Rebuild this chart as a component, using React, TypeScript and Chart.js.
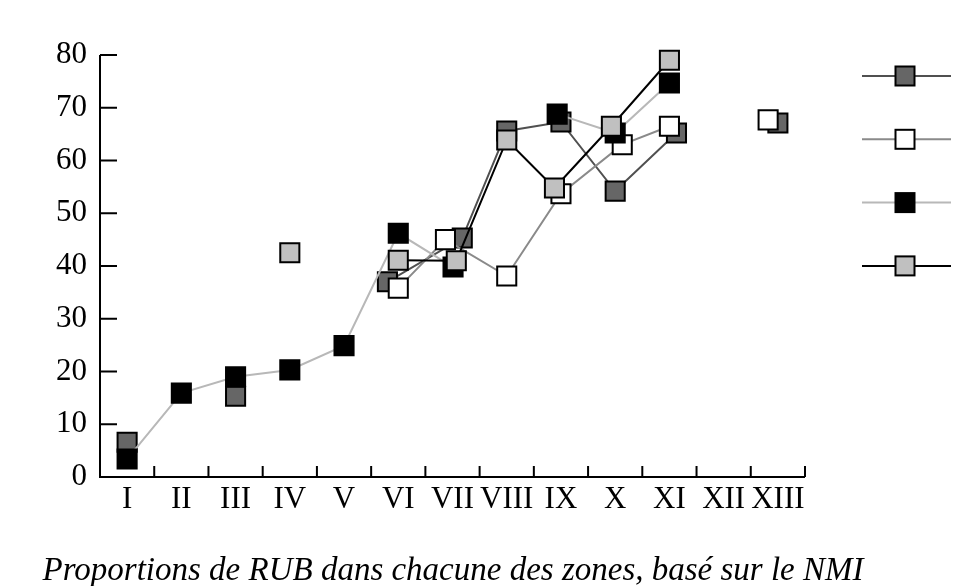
import React, { useEffect, useRef } from 'react';
import { Chart, registerables } from 'chart.js';

Chart.register(...registerables);

// ---- data ----
const zoneLabels = ['I', 'II', 'III', 'IV', 'V', 'VI', 'VII', 'VIII', 'IX', 'X', 'XI', 'XII', 'XIII'];
const yTickValues = [0, 10, 20, 30, 40, 50, 60, 70, 80];

// series A (dark grey squares)
const seriesAX = [1, 2, 3, 4, 5.8, 7.18, 8, 9, 10, 11.13, 12, 13];
const seriesAY = [6.6, null, 15.3, null, 37, 45.3, 65.6, 67.3, 54.2, 65.2, null, 67.1];
// series B (white squares)
const seriesBX = [6, 6.87, 8, 9, 10.13, 11, 12, 12.82];
const seriesBY = [35.8, 45, 38.1, 53.7, 63, 66.5, null, 67.7];
// series C (black squares)
const seriesCX = [1, 2, 3, 4, 5, 6, 7.01, 8, 8.93, 10, 11];
const seriesCY = [3.4, 15.9, 19, 20.3, 24.9, 46.2, 39.8, null, 68.8, 65.2, 74.7];
// series D (light grey squares)
const seriesDX = [4, 5, 6, 7.07, 8, 8.88, 9.93, 11];
const seriesDY = [42.5, null, 41.1, 41, 63.9, 54.8, 66.5, 79];

const titleText = 'Proportions de RUB dans chacune des zones, basé sur le NMI';

const FONT = "'Liberation Serif', 'Times New Roman', serif";

function pts(xs: number[], ys: (number | null)[]) {
  return xs.map((x, i) => ({ x, y: ys[i] }));
}

export default function App() {
  const ref = useRef<HTMLCanvasElement>(null);

  useEffect(() => {
    const canvas = ref.current;
    if (!canvas) return;

    const axesPlugin = {
      id: 'axesPlugin',
      beforeDatasetsDraw(chart: any) {
        const { ctx, scales } = chart;
        const x = scales.x;
        const y = scales.y;
        const left = x.getPixelForValue(0.5);
        const right = x.getPixelForValue(13.5);
        const bottom = y.getPixelForValue(0);
        const top = y.getPixelForValue(80);
        ctx.save();
        ctx.strokeStyle = '#000';
        ctx.lineWidth = 2;
        ctx.lineCap = 'butt';
        ctx.lineJoin = 'miter';
        ctx.beginPath();
        ctx.moveTo(left, top);
        ctx.lineTo(left, bottom);
        ctx.lineTo(right, bottom);
        ctx.stroke();
        ctx.beginPath();
        yTickValues.forEach((v) => {
          const py = y.getPixelForValue(v);
          ctx.moveTo(left, py);
          ctx.lineTo(left + 17, py);
        });
        for (let i = 1; i <= zoneLabels.length; i++) {
          const px = x.getPixelForValue(i + 0.5);
          ctx.moveTo(px, bottom);
          ctx.lineTo(px, bottom - 11);
        }
        ctx.stroke();
        ctx.restore();
      },
    };

    const legendPlugin = {
      id: 'legendPlugin',
      afterDraw(chart: any) {
        const { ctx, chartArea } = chart;
        const cx = chartArea.right + 100;
        const startY = chartArea.top + 21;
        const step = 63.3;
        ctx.save();
        chart.data.datasets.forEach((ds: any, i: number) => {
          const cy = startY + i * step;
          ctx.strokeStyle = ds.borderColor;
          ctx.lineWidth = 2;
          ctx.beginPath();
          ctx.moveTo(cx - 43, cy);
          ctx.lineTo(cx + 46, cy);
          ctx.stroke();
          const s = 19;
          ctx.fillStyle = ds.pointBackgroundColor;
          ctx.fillRect(cx - s / 2, cy - s / 2, s, s);
          ctx.strokeStyle = '#000';
          ctx.lineWidth = 2;
          ctx.strokeRect(cx - s / 2, cy - s / 2, s, s);
        });
        ctx.restore();
      },
    };

    const common = {
      pointStyle: 'rect',
      pointRadius: 13.5,
      pointHoverRadius: 13.5,
      pointBorderColor: '#000',
      pointBorderWidth: 2,
      borderWidth: 2,
      fill: false,
      spanGaps: false,
      tension: 0,
      clip: false,
    };

    const chart = new Chart(canvas, {
      type: 'line',
      data: {
        datasets: [
          { ...common, label: 'A', data: pts(seriesAX, seriesAY), borderColor: '#505050', pointBackgroundColor: '#666666', order: 4 },
          { ...common, label: 'B', data: pts(seriesBX, seriesBY), borderColor: '#8a8a8a', pointBackgroundColor: '#ffffff', order: 3 },
          { ...common, label: 'C', data: pts(seriesCX, seriesCY), borderColor: '#b8b8b8', pointBackgroundColor: '#000000', order: 2 },
          { ...common, label: 'D', data: pts(seriesDX, seriesDY), borderColor: '#000000', pointBackgroundColor: '#c0c0c0', order: 1 },
        ] as any,
      },
      options: {
        animation: false,
        responsive: false,
        maintainAspectRatio: false,
        devicePixelRatio: 1,
        layout: { padding: { top: 55, right: 55, left: 0, bottom: 0 } },
        scales: {
          x: {
            type: 'linear',
            min: 0.5,
            max: 13.5,
            grid: { display: false, drawTicks: false },
            border: { display: false },
            afterBuildTicks: (scale: any) => {
              scale.ticks = zoneLabels.map((_, i) => ({ value: i + 1 }));
            },
            afterFit: (scale: any) => {
              scale.height = 40;
            },
            ticks: {
              autoSkip: false,
              maxRotation: 0,
              minRotation: 0,
              padding: 4,
              color: '#000',
              font: { family: FONT, size: 31 },
              callback: (value: any) => zoneLabels[Math.round(Number(value)) - 1] ?? '',
            },
          },
          y: {
            type: 'linear',
            min: 0,
            max: 80,
            grid: { display: false, drawTicks: false },
            border: { display: false },
            afterFit: (scale: any) => {
              scale.width = 100;
            },
            ticks: {
              stepSize: 10,
              padding: 13,
              color: '#000',
              font: { family: FONT, size: 31 },
            },
          },
          legendSpace: {
            type: 'linear',
            position: 'right',
            display: true,
            min: 0,
            max: 1,
            grid: { display: false, drawTicks: false },
            border: { display: false },
            ticks: { display: false },
            afterFit: (scale: any) => {
              scale.width = 101;
            },
          },
        },
        plugins: {
          legend: { display: false },
          tooltip: { enabled: false },
          title: {
            display: true,
            text: titleText,
            position: 'bottom',
            fullSize: true,
            color: '#000',
            font: { family: FONT, size: 33, style: 'italic', weight: 'normal', lineHeight: 0.6 },
            padding: { top: 44.1, bottom: 5.1 },
          },
        },
      } as any,
      plugins: [axesPlugin, legendPlugin],
    });

    return () => chart.destroy();
  }, []);

  return (
    <div style={{ position: 'fixed', left: 0, top: 0, width: 961, height: 586, background: '#fff' }}>
      <canvas ref={ref} width={961} height={586} style={{ display: 'block', width: 961, height: 586 }} />
    </div>
  );
}
